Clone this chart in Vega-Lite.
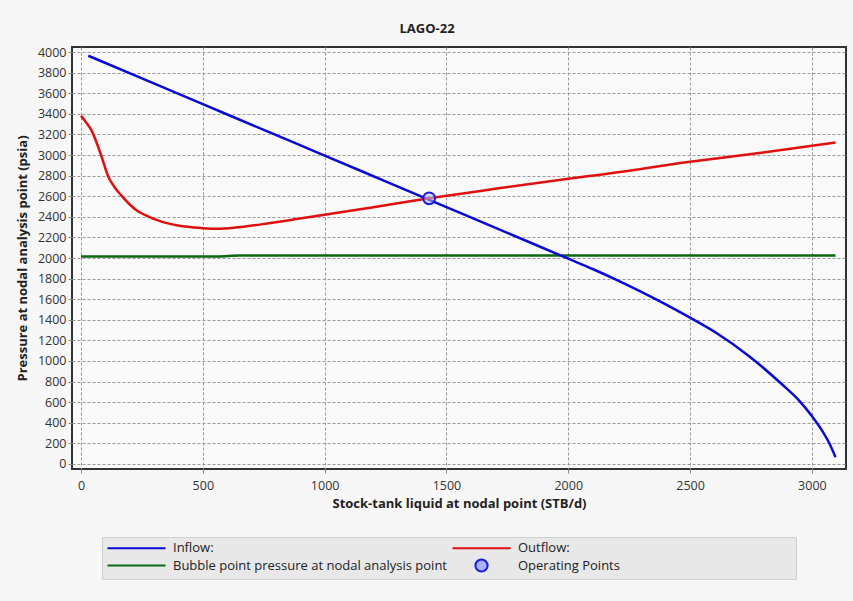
{
  "$schema": "https://vega.github.io/schema/vega-lite/v6.json",
  "width": 774,
  "height": 422,
  "autosize": {"type": "none"},
  "padding": {"left": 72, "top": 47, "right": 7, "bottom": 132},
  "background": "#f7f7f7",
  "title": {"text": "LAGO-22", "font": "Open Sans", "fontSize": 13, "fontWeight": "bold", "color": "#222222", "anchor": "middle", "offset": 10, "dx": -32},
  "data": {
    "values": [
      {"series": "Bubble point pressure at nodal analysis point", "x": 0, "y": 2015},
      {"series": "Bubble point pressure at nodal analysis point", "x": 560, "y": 2015},
      {"series": "Bubble point pressure at nodal analysis point", "x": 650, "y": 2024},
      {"series": "Bubble point pressure at nodal analysis point", "x": 1500, "y": 2025},
      {"series": "Bubble point pressure at nodal analysis point", "x": 3097, "y": 2025},
      {"series": "Inflow:", "x": 30, "y": 3965},
      {"series": "Inflow:", "x": 250, "y": 3745},
      {"series": "Inflow:", "x": 500, "y": 3495},
      {"series": "Inflow:", "x": 750, "y": 3245},
      {"series": "Inflow:", "x": 1000, "y": 2995},
      {"series": "Inflow:", "x": 1250, "y": 2745},
      {"series": "Inflow:", "x": 1500, "y": 2495},
      {"series": "Inflow:", "x": 1750, "y": 2245},
      {"series": "Inflow:", "x": 2000, "y": 1993},
      {"series": "Inflow:", "x": 2100, "y": 1893},
      {"series": "Inflow:", "x": 2200, "y": 1786},
      {"series": "Inflow:", "x": 2300, "y": 1672},
      {"series": "Inflow:", "x": 2400, "y": 1550},
      {"series": "Inflow:", "x": 2500, "y": 1420},
      {"series": "Inflow:", "x": 2605, "y": 1276},
      {"series": "Inflow:", "x": 2741, "y": 1048},
      {"series": "Inflow:", "x": 2877, "y": 773},
      {"series": "Inflow:", "x": 2943, "y": 626},
      {"series": "Inflow:", "x": 3000, "y": 464},
      {"series": "Inflow:", "x": 3040, "y": 330},
      {"series": "Inflow:", "x": 3073, "y": 193},
      {"series": "Inflow:", "x": 3097, "y": 65},
      {"series": "Outflow:", "x": 0, "y": 3381},
      {"series": "Outflow:", "x": 20, "y": 3320},
      {"series": "Outflow:", "x": 44, "y": 3235},
      {"series": "Outflow:", "x": 79, "y": 3023},
      {"series": "Outflow:", "x": 113, "y": 2785},
      {"series": "Outflow:", "x": 140, "y": 2680},
      {"series": "Outflow:", "x": 167, "y": 2603},
      {"series": "Outflow:", "x": 200, "y": 2520},
      {"series": "Outflow:", "x": 235, "y": 2452},
      {"series": "Outflow:", "x": 275, "y": 2405},
      {"series": "Outflow:", "x": 316, "y": 2365},
      {"series": "Outflow:", "x": 398, "y": 2315},
      {"series": "Outflow:", "x": 500, "y": 2290},
      {"series": "Outflow:", "x": 560, "y": 2284},
      {"series": "Outflow:", "x": 642, "y": 2298},
      {"series": "Outflow:", "x": 778, "y": 2340},
      {"series": "Outflow:", "x": 1000, "y": 2420},
      {"series": "Outflow:", "x": 1200, "y": 2493},
      {"series": "Outflow:", "x": 1429, "y": 2580},
      {"series": "Outflow:", "x": 1700, "y": 2672},
      {"series": "Outflow:", "x": 2000, "y": 2770},
      {"series": "Outflow:", "x": 2130, "y": 2809},
      {"series": "Outflow:", "x": 2500, "y": 2935},
      {"series": "Outflow:", "x": 2800, "y": 3025},
      {"series": "Outflow:", "x": 3000, "y": 3090},
      {"series": "Outflow:", "x": 3097, "y": 3122},
      {"series": "Operating Points", "x": 1429, "y": 2580}
    ]
  },
  "encoding": {
    "x": {
      "field": "x", "type": "quantitative",
      "scale": {"domain": [-37, 3140], "nice": false, "zero": false},
      "axis": {
        "values": [0, 500, 1000, 1500, 2000, 2500, 3000],
        "format": "d",
        "labelPadding": 6,
        "title": "Stock-tank liquid at nodal point (STB/d)",
        "titleY": 34, "titleBaseline": "middle"
      }
    },
    "y": {
      "field": "y", "type": "quantitative",
      "scale": {"domain": [-50, 4050], "nice": false, "zero": false},
      "axis": {
        "values": [0, 200, 400, 600, 800, 1000, 1200, 1400, 1600, 1800, 2000, 2200, 2400, 2600, 2800, 3000, 3200, 3400, 3600, 3800, 4000],
        "format": "d",
        "labelPadding": 2,
        "title": "Pressure at nodal analysis point (psia)",
        "titleAngle": -90, "titleX": -50, "titleY": 211, "titleAlign": "center", "titleBaseline": "middle"
      }
    }
  },
  "layer": [
    {
      "transform": [{"filter": "datum.series !== 'Operating Points'"}],
      "mark": {"type": "line", "strokeWidth": 2.5, "clip": true, "interpolate": "monotone"},
      "encoding": {
        "color": {
          "field": "series", "type": "nominal",
          "scale": {
            "domain": ["Inflow:", "Bubble point pressure at nodal analysis point", "Outflow:", "Operating Points"],
            "range": ["#0a0ad6", "#0b6a10", "#e01010", "#1a1ae0"]
          },
          "legend": {
            "title": null,
            "orient": "none",
            "legendX": 30,
            "legendY": 490,
            "columns": 2,
            "gridAlign": "all",
            "columnPadding": 0,
            "rowPadding": -2,
            "padding": 3,
            "fillColor": "#e8e8e8",
            "strokeColor": "#cfcfcf",
            "symbolSize": 100,
            "symbolStrokeWidth": 2,
            "symbolOffset": 25,
            "labelOffset": 30,
            "labelFont": "Open Sans",
            "labelFontSize": 13,
            "labelColor": "#222222",
            "labelLimit": 500,
            "labelExpr": "datum.label === 'Operating Points' ? datum.label + '\u00a0\u00a0\u00a0\u00a0\u00a0\u00a0\u00a0\u00a0\u00a0\u00a0\u00a0\u00a0\u00a0\u00a0\u00a0\u00a0\u00a0\u00a0\u00a0\u00a0\u00a0\u00a0\u00a0\u00a0\u00a0\u00a0\u00a0\u00a0\u00a0\u00a0\u00a0\u00a0\u00a0\u00a0\u00a0\u00a0\u00a0\u00a0\u00a0\u00a0\u00a0\u00a0\u00a0\u00a0\u00a0\u00a0\u00a0\u00a0\u00a0\u00a0\u00a0\u200b' : datum.label",
            "encode": {
              "symbols": {
                "update": {
                  "shape": {"signal": "datum.value === 'Operating Points' ? 'circle' : 'M-5.8,0H5.8'"},
                  "fill": {"signal": "datum.value === 'Operating Points' ? '#aab0ff' : 'transparent'"},
                  "stroke": {"signal": "scale('color', datum.value)"},
                  "strokeWidth": {"value": 2},
                  "size": {"signal": "datum.value === 'Operating Points' ? 150 : 100"},
                  "opacity": {"value": 1}
                }
              }
            }
          }
        }
      }
    },
    {
      "transform": [{"filter": "datum.series === 'Operating Points'"}],
      "mark": {"type": "point", "filled": true, "fill": "#b4baff", "fillOpacity": 0.55, "stroke": "#1a1ae0", "strokeWidth": 2, "strokeOpacity": 1, "size": 140, "opacity": 1}
    }
  ],
  "config": {
    "view": {"stroke": "#333333", "strokeWidth": 2, "fill": "#fafafa"},
    "axis": {
      "domain": false,
      "grid": true,
      "gridDash": [3, 2],
      "gridColor": "#9a9a9a",
      "gridWidth": 1,
      "gridOpacity": 1,
      "tickSize": 4,
      "tickColor": "#888888",
      "labelFont": "Open Sans",
      "labelFontSize": 12.5,
      "labelColor": "#333333",
      "labelFlush": false,
      "titleFont": "Open Sans",
      "titleFontSize": 13,
      "titleFontWeight": "bold",
      "titleColor": "#222222"
    }
  }
}
